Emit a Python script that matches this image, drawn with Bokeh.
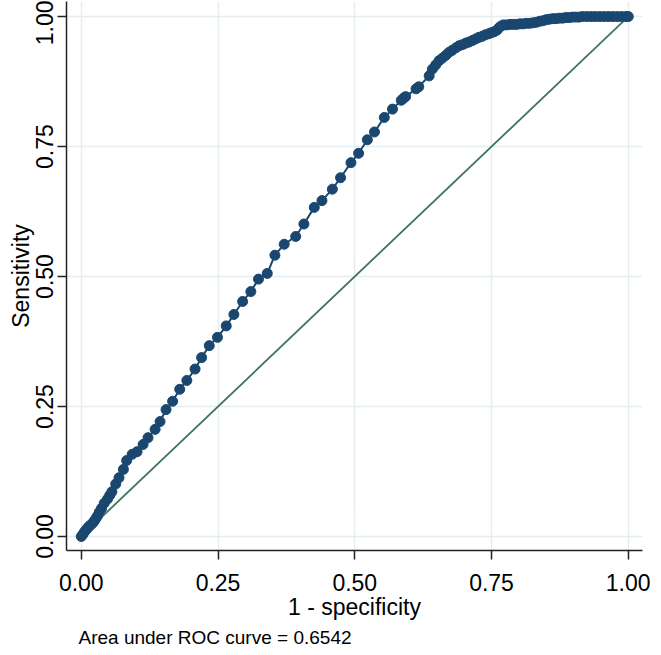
from bokeh.plotting import figure
from bokeh.models import FixedTicker, Title, PrintfTickFormatter, Range1d
from bokeh.embed import file_html
from bokeh.resources import INLINE

# ROC curve points (1 - specificity, sensitivity)
fpr = [0.000, 0.003, 0.006, 0.009, 0.012, 0.015, 0.018, 0.021, 0.024, 0.027,
       0.030, 0.033, 0.037, 0.042, 0.048, 0.052, 0.056, 0.063, 0.069, 0.077,
       0.083, 0.093, 0.102, 0.113, 0.122, 0.135, 0.144, 0.155, 0.167, 0.180,
       0.193, 0.208, 0.220, 0.234, 0.249, 0.265, 0.279, 0.295, 0.310, 0.324,
       0.340, 0.354, 0.371, 0.392, 0.407, 0.426, 0.440, 0.459, 0.474, 0.493,
       0.507, 0.523, 0.536, 0.554, 0.569, 0.585, 0.589, 0.593, 0.612, 0.617,
       0.636, 0.642, 0.648, 0.654, 0.660, 0.666, 0.672, 0.678, 0.685, 0.691,
       0.697, 0.703, 0.709, 0.715, 0.721, 0.727, 0.733, 0.739, 0.745, 0.750,
       0.755, 0.760, 0.764, 0.768, 0.772, 0.778, 0.784, 0.790, 0.796, 0.802,
       0.808, 0.814, 0.820, 0.826, 0.832, 0.838, 0.844, 0.850, 0.856, 0.862,
       0.868, 0.874, 0.880, 0.886, 0.892, 0.898, 0.904, 0.910, 0.916, 0.924,
       0.932, 0.940, 0.948, 0.956, 0.964, 0.972, 0.980, 0.988, 0.996, 1.000]
tpr = [0.000, 0.004, 0.009, 0.013, 0.017, 0.020, 0.023, 0.026, 0.030, 0.035,
       0.040, 0.047, 0.054, 0.064, 0.072, 0.079, 0.086, 0.101, 0.113, 0.129,
       0.146, 0.158, 0.163, 0.177, 0.190, 0.206, 0.221, 0.244, 0.260, 0.283,
       0.300, 0.322, 0.344, 0.367, 0.383, 0.405, 0.427, 0.452, 0.471, 0.495,
       0.506, 0.541, 0.562, 0.577, 0.601, 0.633, 0.646, 0.668, 0.690, 0.719,
       0.737, 0.763, 0.778, 0.806, 0.822, 0.839, 0.843, 0.846, 0.861, 0.865,
       0.886, 0.899, 0.907, 0.915, 0.920, 0.925, 0.931, 0.935, 0.940, 0.944,
       0.946, 0.949, 0.951, 0.954, 0.957, 0.960, 0.962, 0.965, 0.967, 0.969,
       0.971, 0.974, 0.979, 0.982, 0.984, 0.984, 0.985, 0.985, 0.985, 0.986,
       0.986, 0.987, 0.987, 0.988, 0.989, 0.991, 0.992, 0.994, 0.995, 0.996,
       0.996, 0.997, 0.997, 0.998, 0.998, 0.999, 0.999, 0.999, 1.000, 1.000,
       1.000, 1.000, 1.000, 1.000, 1.000, 1.000, 1.000, 1.000, 1.000, 1.000]

ref_x = [0.0, 1.0]
ref_y = [0.0, 1.0]
ticks = [0.0, 0.25, 0.5, 0.75, 1.0]
auc_note = "Area under ROC curve = 0.6542"

NAVY = "#1a476f"
GREEN = "#40735d"
GRID = "#e4edf0"
FONT = "Liberation Sans"

p = figure(frame_width=576, frame_height=549,
           x_range=Range1d(-0.027, 1.026), y_range=Range1d(-0.027, 1.029),
           output_backend="svg", toolbar_location=None,
           min_border_left=66, min_border_top=1, min_border_right=8,
           min_border_bottom=4)
p.outline_line_color = None
p.background_fill_color = "white"
p.border_fill_color = "white"

p.line(ref_x, ref_y, line_color=GREEN, line_width=1.8)
p.line(fpr, tpr, line_color=NAVY, line_width=2)
p.scatter(fpr, tpr, size=10, fill_color=NAVY, line_color=NAVY)

for ax in (p.xaxis, p.yaxis):
    ax.ticker = FixedTicker(ticks=ticks)
    ax.formatter = PrintfTickFormatter(format="%.2f")
    ax.minor_tick_line_color = None
    ax.major_tick_in = 0
    ax.major_tick_out = 9
    ax.axis_line_color = "#222222"
    ax.axis_line_width = 1.5
    ax.major_tick_line_color = "#222222"
    ax.major_tick_line_width = 1.5
    ax.major_label_text_font = FONT
    ax.major_label_text_font_size = "23px"
    ax.major_label_text_color = "black"
    ax.axis_label_text_font = FONT
    ax.axis_label_text_font_size = "23px"
    ax.axis_label_text_font_style = "normal"
    ax.axis_label_text_color = "black"

p.xaxis.axis_label = "1 - specificity"
p.yaxis.axis_label = "Sensitivity"
p.yaxis.major_label_orientation = "vertical"
p.xaxis.major_label_standoff = 14
p.yaxis.major_label_standoff = 4
p.xaxis.axis_label_standoff = 0
p.yaxis.axis_label_standoff = 0

p.xgrid.ticker = FixedTicker(ticks=ticks)
p.ygrid.ticker = FixedTicker(ticks=ticks)
p.xgrid.grid_line_color = GRID
p.ygrid.grid_line_color = GRID
p.xgrid.grid_line_width = 1.5
p.ygrid.grid_line_width = 1.5

note = Title(text=auc_note, align="left", offset=12, standoff=4,
             text_font=FONT, text_font_size="19px",
             text_font_style="normal", text_color="black")
p.add_layout(note, "below")

open("out.html", "w").write(file_html(p, INLINE))
